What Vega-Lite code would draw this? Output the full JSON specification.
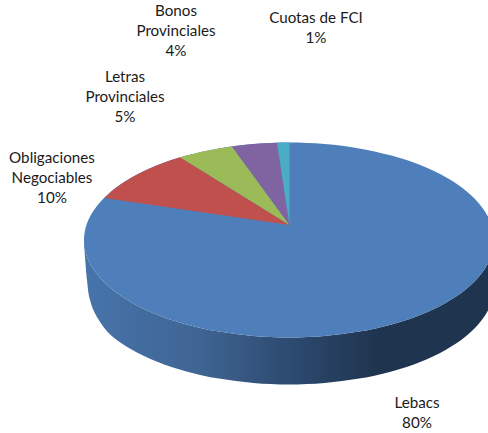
{"$schema":"https://vega.github.io/schema/vega-lite/v6.json","width":488,"height":433,"autosize":{"type":"fit","contains":"padding"},"padding":0,"background":"white","view":{"stroke":null},
"datasets":{
"outline":[
{"part":"wall","i":0,"x":84,"y":240},{"part":"wall","i":1,"x":87.1,"y":257},{"part":"wall","i":2,"x":96.4,"y":273.3},{"part":"wall","i":3,"x":111.5,"y":288.8},{"part":"wall","i":4,"x":132,"y":302.7},{"part":"wall","i":5,"x":157.2,"y":314.7},{"part":"wall","i":6,"x":186.5,"y":324.4},{"part":"wall","i":7,"x":218.9,"y":331.6},{"part":"wall","i":8,"x":253.4,"y":336},{"part":"wall","i":9,"x":289,"y":337.5},{"part":"wall","i":10,"x":324.6,"y":336},{"part":"wall","i":11,"x":359.1,"y":331.6},{"part":"wall","i":12,"x":391.5,"y":324.4},{"part":"wall","i":13,"x":420.8,"y":314.7},{"part":"wall","i":14,"x":446,"y":302.7},{"part":"wall","i":15,"x":466.5,"y":288.8},{"part":"wall","i":16,"x":481.6,"y":273.3},{"part":"wall","i":17,"x":491,"y":257},{"part":"wall","i":18,"x":494,"y":240},{"part":"wall","i":19,"x":494,"y":287},{"part":"wall","i":20,"x":491,"y":304},{"part":"wall","i":21,"x":481.6,"y":320.3},{"part":"wall","i":22,"x":466.5,"y":335.8},{"part":"wall","i":23,"x":446,"y":349.7},{"part":"wall","i":24,"x":420.8,"y":361.7},{"part":"wall","i":25,"x":391.5,"y":371.4},{"part":"wall","i":26,"x":359.1,"y":378.6},{"part":"wall","i":27,"x":324.6,"y":383},{"part":"wall","i":28,"x":289,"y":384.5},{"part":"wall","i":29,"x":253.4,"y":383},{"part":"wall","i":30,"x":218.9,"y":378.6},{"part":"wall","i":31,"x":186.5,"y":371.4},{"part":"wall","i":32,"x":157.2,"y":361.7},{"part":"wall","i":33,"x":132,"y":349.7},{"part":"wall","i":34,"x":111.5,"y":335.8},{"part":"wall","i":35,"x":97.5,"y":318},{"part":"wall","i":36,"x":90,"y":300},{"part":"wall","i":37,"x":87,"y":280},
{"part":"Lebacs","i":0,"x":494,"y":240},{"part":"Lebacs","i":1,"x":490.9,"y":223},{"part":"Lebacs","i":2,"x":481.6,"y":206.7},{"part":"Lebacs","i":3,"x":466.5,"y":191.2},{"part":"Lebacs","i":4,"x":446,"y":177.3},{"part":"Lebacs","i":5,"x":420.8,"y":165.3},{"part":"Lebacs","i":6,"x":391.5,"y":155.6},{"part":"Lebacs","i":7,"x":359.1,"y":148.4},{"part":"Lebacs","i":8,"x":324.6,"y":144},{"part":"Lebacs","i":9,"x":289,"y":142.5},{"part":"Lebacs","i":10,"x":253.4,"y":144},{"part":"Lebacs","i":11,"x":218.9,"y":148.4},{"part":"Lebacs","i":12,"x":186.5,"y":155.6},{"part":"Lebacs","i":13,"x":157.2,"y":165.3},{"part":"Lebacs","i":14,"x":132,"y":177.3},{"part":"Lebacs","i":15,"x":111.5,"y":191.2},{"part":"Lebacs","i":16,"x":96.4,"y":206.7},{"part":"Lebacs","i":17,"x":87.1,"y":223},{"part":"Lebacs","i":18,"x":84,"y":240},{"part":"Lebacs","i":19,"x":87.1,"y":257},{"part":"Lebacs","i":20,"x":96.4,"y":273.3},{"part":"Lebacs","i":21,"x":111.5,"y":288.8},{"part":"Lebacs","i":22,"x":132,"y":302.7},{"part":"Lebacs","i":23,"x":157.2,"y":314.7},{"part":"Lebacs","i":24,"x":186.5,"y":324.4},{"part":"Lebacs","i":25,"x":218.9,"y":331.6},{"part":"Lebacs","i":26,"x":253.4,"y":336},{"part":"Lebacs","i":27,"x":289,"y":337.5},{"part":"Lebacs","i":28,"x":324.6,"y":336},{"part":"Lebacs","i":29,"x":359.1,"y":331.6},{"part":"Lebacs","i":30,"x":391.5,"y":324.4},{"part":"Lebacs","i":31,"x":420.8,"y":314.7},{"part":"Lebacs","i":32,"x":446,"y":302.7},{"part":"Lebacs","i":33,"x":466.5,"y":288.8},{"part":"Lebacs","i":34,"x":481.6,"y":273.3},{"part":"Lebacs","i":35,"x":490.9,"y":257},
{"part":"Obligaciones Negociables","i":0,"x":289.5,"y":225},{"part":"Obligaciones Negociables","i":1,"x":104.5,"y":198},{"part":"Obligaciones Negociables","i":2,"x":111.5,"y":191.2},{"part":"Obligaciones Negociables","i":3,"x":121.1,"y":184},{"part":"Obligaciones Negociables","i":4,"x":132,"y":177.3},{"part":"Obligaciones Negociables","i":5,"x":144,"y":171},{"part":"Obligaciones Negociables","i":6,"x":157.2,"y":165.3},{"part":"Obligaciones Negociables","i":7,"x":171.4,"y":160.1},{"part":"Obligaciones Negociables","i":8,"x":180,"y":157.3},{"part":"Obligaciones Negociables","i":9,"x":289.5,"y":225},
{"part":"Letras Provinciales","i":0,"x":289.5,"y":225},{"part":"Letras Provinciales","i":1,"x":180,"y":157.3},{"part":"Letras Provinciales","i":2,"x":186.5,"y":155.6},{"part":"Letras Provinciales","i":3,"x":202.4,"y":151.6},{"part":"Letras Provinciales","i":4,"x":218.9,"y":148.4},{"part":"Letras Provinciales","i":5,"x":232,"y":146.4},{"part":"Letras Provinciales","i":6,"x":289.5,"y":225},
{"part":"Bonos Provinciales","i":0,"x":289.5,"y":225},{"part":"Bonos Provinciales","i":1,"x":232,"y":146.4},{"part":"Bonos Provinciales","i":2,"x":253.4,"y":144},{"part":"Bonos Provinciales","i":3,"x":271.1,"y":142.9},{"part":"Bonos Provinciales","i":4,"x":277,"y":142.7},{"part":"Bonos Provinciales","i":5,"x":289.5,"y":225},
{"part":"Cuotas de FCI","i":0,"x":289.5,"y":225},{"part":"Cuotas de FCI","i":1,"x":277,"y":142.7},{"part":"Cuotas de FCI","i":2,"x":283,"y":142.6},{"part":"Cuotas de FCI","i":3,"x":289.5,"y":142.5},{"part":"Cuotas de FCI","i":4,"x":289.5,"y":225}
],
"labels":[
{"label":"Bonos\nProvinciales\n4%","x":176,"y":10.5},
{"label":"Cuotas de FCI\n1%","x":316,"y":18},
{"label":"Letras\nProvinciales\n5%","x":125,"y":76.5},
{"label":"Obligaciones\nNegociables\n10%","x":52,"y":157.5},
{"label":"Lebacs\n80%","x":417,"y":403}
]},
"encoding":{
"x":{"field":"x","type":"quantitative","axis":null,"scale":{"domain":[0,488],"nice":false,"zero":false}},
"y":{"field":"y","type":"quantitative","axis":null,"scale":{"domain":[0,433],"reverse":true,"nice":false,"zero":false}}
},
"layer":[
{"data":{"name":"outline"},"transform":[{"filter":"datum.part==='wall'"}],"mark":{"type":"line","clip":true,"interpolate":"cardinal-closed","strokeWidth":0,"fill":{"gradient":"linear","x1":0,"y1":0,"x2":1,"y2":0,"stops":[{"offset":0,"color":"#4674ab"},{"offset":0.28,"color":"#3f6593"},{"offset":0.5,"color":"#2d4a70"},{"offset":0.72,"color":"#1f344e"},{"offset":1,"color":"#1f344e"}]}},"encoding":{"order":{"field":"i","type":"quantitative"}}},
{"data":{"name":"outline"},"transform":[{"filter":"datum.part==='Lebacs'"}],"mark":{"type":"line","clip":true,"interpolate":"cardinal-closed","strokeWidth":0,"fill":"#4e7fbb"},"encoding":{"order":{"field":"i","type":"quantitative"}}},
{"data":{"name":"outline"},"transform":[{"filter":"datum.part==='Obligaciones Negociables'"}],"mark":{"type":"line","strokeWidth":0,"fill":"#c0504d"},"encoding":{"order":{"field":"i","type":"quantitative"}}},
{"data":{"name":"outline"},"transform":[{"filter":"datum.part==='Letras Provinciales'"}],"mark":{"type":"line","strokeWidth":0,"fill":"#9bbb59"},"encoding":{"order":{"field":"i","type":"quantitative"}}},
{"data":{"name":"outline"},"transform":[{"filter":"datum.part==='Bonos Provinciales'"}],"mark":{"type":"line","strokeWidth":0,"fill":"#8064a2"},"encoding":{"order":{"field":"i","type":"quantitative"}}},
{"data":{"name":"outline"},"transform":[{"filter":"datum.part==='Cuotas de FCI'"}],"mark":{"type":"line","strokeWidth":0,"fill":"#4bacc6"},"encoding":{"order":{"field":"i","type":"quantitative"}}},
{"data":{"name":"labels"},"mark":{"type":"text","font":"Lato","fontSize":15.2,"color":"#1a1a1a","align":"center","baseline":"middle","lineBreak":"\n","lineHeight":20},"encoding":{"text":{"field":"label","type":"nominal"}}}
]}
